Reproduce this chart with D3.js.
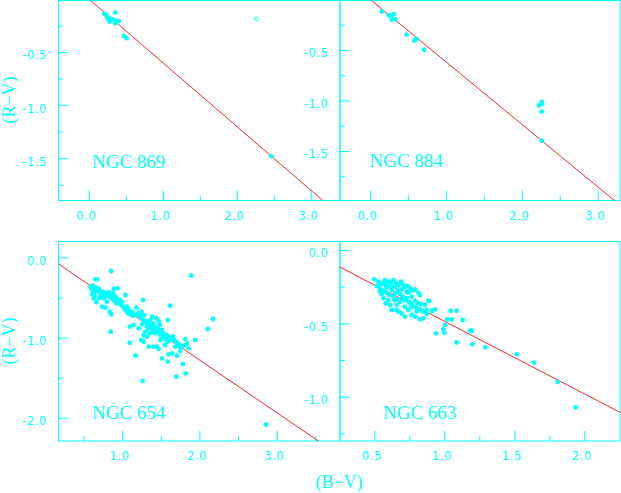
<!DOCTYPE html>
<html>
<head>
<meta charset="utf-8">
<script src="https://cdn.jsdelivr.net/npm/d3@7"></script>
<style>
body { margin: 0; background: #fff; }
svg { display: block; }
</style>
</head>
<body>
<svg id="chart" width="621" height="493"></svg>
<script>
// colour-colour diagrams, (B-V) vs (R-V), four clusters

// NGC 869
var ngc869 = [[0.21,-0.14],[0.24,-0.157],[0.257,-0.183],[0.284,-0.214],[0.307,-0.189],[0.36,-0.129],
    [0.338,-0.198],[0.384,-0.214],[0.405,-0.208],[0.36,-0.23],[0.473,-0.349],[0.51,-0.37],[2.465,-1.48]]
var ngc869Open = [[2.266,-0.189]]
var fit869 = [[-0.4,0.24],[3.4,-2.04]]

// NGC 884
var ngc884 = [[0.158,-0.119],[0.25,-0.156],[0.276,-0.168],[0.316,-0.146],[0.286,-0.2],[0.336,-0.196],
    [0.483,-0.348],[0.583,-0.408],[0.612,-0.391],[0.71,-0.497],[2.228,-1.048],[2.263,-1.015],
    [2.263,-1.035],[2.263,-1.11],[2.263,-1.398]]
var fit884 = [[-0.4,0.25],[3.3,-2.04]]

// NGC 654
var ngc654 = [[0.858,-0.171],[1.894,-0.229],[0.656,-0.275],[0.677,-0.275],[0.621,-0.354],[0.604,-0.395],
    [0.634,-0.428],[0.668,-0.379],[0.686,-0.42],[0.711,-0.437],[0.729,-0.42],[0.754,-0.437],[0.772,-0.462],
    [0.797,-0.445],[0.815,-0.478],[0.84,-0.491],[0.871,-0.512],[0.892,-0.395],[0.944,-0.387],[0.884,-0.449],
    [0.901,-0.545],[0.927,-0.574],[0.957,-0.561],[0.978,-0.586],[1.013,-0.616],[1.043,-0.47],[1.03,-0.645],
    [1.056,-0.67],[1.086,-0.657],[1.107,-0.711],[1.142,-0.728],[0.742,-0.616],[0.785,-0.628],[0.84,-0.678],
    [0.858,-0.711],[0.634,-0.512],[0.613,-0.462],[0.699,-0.512],[0.668,-0.561],[0.72,-0.491],[1.185,-0.628],
    [1.249,-0.678],[1.271,-0.532],[1.236,-0.753],[1.279,-0.782],[1.301,-0.811],[1.258,-0.836],[1.322,-0.865],
    [1.344,-0.886],[1.365,-0.782],[1.387,-0.74],[1.4,-0.823],[1.417,-0.865],[1.443,-0.906],[1.473,-0.927],
    [1.43,-0.948],[1.365,-0.948],[1.301,-0.927],[1.279,-0.969],[1.322,-0.99],[1.494,-0.969],[1.529,-0.99],
    [1.559,-1.019],[1.589,-0.782],[1.623,-0.603],[1.589,-1.052],[1.099,-0.865],[1.15,-0.844],[1.215,-0.886],
    [1.249,-1.031],[0.853,-0.927],[1.099,-1.064],[1.658,-0.99],[1.675,-1.031],[1.709,-1.06],[1.731,-1.085],
    [1.752,-1.114],[1.688,-1.114],[1.795,-1.102],[1.817,-1.019],[1.838,-1.073],[1.86,-1.135],[1.946,-1.031],
    [1.752,-1.168],[1.709,-1.227],[1.645,-1.197],[1.602,-1.21],[1.516,-1.26],[1.589,-1.301],[1.787,-1.33],
    [1.172,-1.227],[1.408,-1.114],[1.451,-1.114],[1.473,-1.143],[1.344,-1.114],[1.279,-1.052],
    [1.266,-1.542],[2.862,-2.087],[2.174,-0.769],[2.11,-0.894],[1.821,-1.446],[1.70,-1.489],
    [0.656,-0.408],[0.699,-0.395],[0.742,-0.462],[0.785,-0.491],[0.828,-0.437],[0.858,-0.47],[0.914,-0.491],
    [0.935,-0.52],[0.97,-0.532],[0.999,-0.553],[0.591,-0.366],[0.625,-0.387],[0.643,-0.47],[0.763,-0.512],
    [0.806,-0.553],[1.064,-0.616],[1.073,-0.699],[1.129,-0.678],[1.172,-0.72],[1.2,-0.699],[1.228,-0.72],
    [1.258,-0.761],[1.288,-0.72],[1.322,-0.803],[1.344,-0.836],[1.374,-0.865],[1.387,-0.906],[1.408,-0.927],
    [1.46,-0.886],[1.486,-0.844],[1.516,-0.906],[1.537,-0.948],[1.572,-0.969],[1.602,-0.99],[1.623,-1.031],
    [1.494,-1.031],[1.559,-1.093],[1.473,-0.803],[1.443,-0.761]]
var fit654 = [[0.18,-0.084],[3.8,-2.462]]

// NGC 663
var ngc663 = [[0.5,-0.2],[0.529,-0.216],[0.548,-0.232],[0.565,-0.223],[0.581,-0.239],[0.6,-0.216],
    [0.619,-0.227],[0.636,-0.205],[0.653,-0.223],[0.672,-0.239],[0.691,-0.216],[0.707,-0.239],[0.719,-0.25],
    [0.738,-0.245],[0.755,-0.261],[0.772,-0.277],[0.791,-0.268],[0.815,-0.291],[0.826,-0.307],[0.541,-0.261],
    [0.565,-0.277],[0.588,-0.291],[0.605,-0.307],[0.624,-0.273],[0.648,-0.295],[0.667,-0.277],[0.684,-0.3],
    [0.7,-0.318],[0.715,-0.341],[0.731,-0.329],[0.743,-0.352],[0.762,-0.364],[0.779,-0.382],[0.803,-0.398],
    [0.826,-0.405],[0.85,-0.42],[0.874,-0.409],[0.893,-0.348],[0.565,-0.329],[0.581,-0.364],[0.6,-0.341],
    [0.624,-0.409],[0.66,-0.375],[0.672,-0.42],[0.695,-0.432],[0.719,-0.386],[0.743,-0.409],[0.767,-0.443],
    [0.791,-0.455],[0.826,-0.473],[0.85,-0.466],[0.719,-0.455],[0.684,-0.352],[0.643,-0.341],[0.612,-0.25],
    [0.576,-0.205],[0.743,-0.291],[0.767,-0.318],[0.791,-0.345],[0.81,-0.364],[0.834,-0.368],[0.862,-0.375],
    [0.874,-0.436],[0.91,-0.416],[0.934,-0.405],[0.553,-0.3],[0.517,-0.245],[0.648,-0.25],[0.695,-0.268],
    [0.588,-0.254],[0.636,-0.318],[0.672,-0.336],[0.731,-0.284],[0.767,-0.386],[0.803,-0.42],[0.66,-0.409],
    [0.612,-0.375],[0.541,-0.284],
    [1.517,-0.711],[1.641,-0.768],[1.81,-0.9],[1.938,-1.073],[1.293,-0.664],[1.2,-0.643],[1.088,-0.63],
    [1.184,-0.55],[1.196,-0.55],[1.131,-0.477],[1.088,-0.414],[1.045,-0.414],[1.053,-0.473],[1.022,-0.473],
    [1.005,-0.511],[0.993,-0.541],[1.0,-0.564],[0.941,-0.568],[0.915,-0.414],[0.888,-0.346]]
var fit663 = [[0.25,-0.114],[2.26,-1.109]]

// tick values
var xMajorTop = [0, 1, 2, 3], xMinorTop = [0.5, 1.5, 2.5]
var yMajorTop = [-0.5, -1.0, -1.5], yMinorTop = [-0.25, -0.75, -1.25, -1.75]
var xMajor654 = [1, 2, 3], xMinor654 = [0.5, 1.5, 2.5, 3.5]
var yMajor654 = [0, -1, -2], yMinor654 = [-0.5, -1.5]
var xMajor663 = [0.5, 1.0, 1.5, 2.0], xMinor663 = [0.75, 1.25, 1.75]
var yMajor663 = [0, -0.5, -1.0], yMinor663 = [-0.25, -0.75, -1.25]

var cyan = '#00ffff'
var red = '#ff2626'
var svg = d3.select('#chart')

function fmt(v) {
    return (v < 0 ? '-' : '') + Math.abs(v).toFixed(1)
}

var panels = [
    {id: 'p869', name: 'NGC 869', pts: ngc869, open: ngc869Open, fit: fit869,
     left: 58.5, right: 340, top: 0.5, bottom: 200.5, xDom: [-0.409, 3.395], yDom: [-1.897, -0.0155],
     xMajor: xMajorTop, xMinor: xMinorTop, yMajor: yMajorTop, yMinor: yMinorTop, nameAt: [92, 167.5]},
    {id: 'p884', name: 'NGC 884', pts: ngc884, open: [], fit: fit884,
     left: 340, right: 620, top: 0.5, bottom: 200.5, xDom: [-0.395, 3.294], yDom: [-1.99, -0.01],
     xMajor: xMajorTop, xMinor: xMinorTop, yMajor: yMajorTop, yMinor: yMinorTop, nameAt: [369.5, 167]},
    {id: 'p654', name: 'NGC 654', pts: ngc654, open: [], fit: fit654,
     left: 58.5, right: 340, top: 241.5, bottom: 441, xDom: [0.178, 3.817], yDom: [-2.29, 0.197],
     xMajor: xMajor654, xMinor: xMinor654, yMajor: yMajor654, yMinor: yMinor654, nameAt: [92, 418.5]},
    {id: 'p663', name: 'NGC 663', pts: ngc663, open: [], fit: fit663,
     left: 340, right: 620, top: 241.5, bottom: 441, xDom: [0.255, 2.255], yDom: [-1.302, 0.058],
     xMajor: xMajor663, xMinor: xMinor663, yMajor: yMajor663, yMinor: yMinor663, nameAt: [383, 418.5]}
]

panels.forEach(function (p) {
    var x = d3.scaleLinear().domain(p.xDom).range([p.left, p.right])
    var y = d3.scaleLinear().domain(p.yDom).range([p.bottom, p.top])
    var g = svg.append('g').attr('class', 'panel ' + p.id)

    g.append('clipPath').attr('id', 'clip-' + p.id)
        .append('rect')
        .attr('x', p.left).attr('y', p.top)
        .attr('width', p.right - p.left).attr('height', p.bottom - p.top)

    // frame
    g.append('rect')
        .attr('x', p.left).attr('y', p.top)
        .attr('width', p.right - p.left).attr('height', p.bottom - p.top)
        .attr('fill', 'none').attr('stroke', cyan).attr('stroke-width', 1)

    // ticks, pointing inward
    var ticks = g.append('g').attr('class', 'ticks')
    ticks.append('g').attr('transform', 'translate(0,' + p.bottom + ')')
        .call(d3.axisBottom(x).tickValues(p.xMajor).tickSize(-10).tickFormat(''))
    ticks.append('g').attr('transform', 'translate(0,' + p.bottom + ')')
        .call(d3.axisBottom(x).tickValues(p.xMinor).tickSize(-5).tickFormat(''))
    ticks.append('g').attr('transform', 'translate(' + p.left + ',0)')
        .call(d3.axisLeft(y).tickValues(p.yMajor).tickSize(-10).tickFormat(''))
    ticks.append('g').attr('transform', 'translate(' + p.left + ',0)')
        .call(d3.axisLeft(y).tickValues(p.yMinor).tickSize(-5).tickFormat(''))
    ticks.selectAll('.domain').remove()
    ticks.selectAll('line').attr('stroke', cyan)

    // tick labels
    g.append('g').selectAll('text.xl')
        .data(p.xMajor).enter().append('text')
        .attr('x', function (d) { return x(d) - 2.5 })
        .attr('y', p.bottom + 19)
        .attr('text-anchor', 'middle')
        .attr('font-family', 'DejaVu Sans, sans-serif').attr('font-size', 11.5)
        .attr('letter-spacing', 0.6)
        .attr('fill', cyan)
        .text(fmt)
    g.append('g').selectAll('text.yl')
        .data(p.yMajor).enter().append('text')
        .attr('x', p.left - 11.5)
        .attr('y', function (d) { return y(d) + 7.4 })
        .attr('text-anchor', 'end')
        .attr('font-family', 'DejaVu Sans, sans-serif').attr('font-size', 11.5)
        .attr('letter-spacing', 0.6)
        .attr('fill', cyan)
        .text(fmt)

    var inner = g.append('g').attr('clip-path', 'url(#clip-' + p.id + ')')

    inner.append('path')
        .datum(p.fit)
        .attr('d', d3.line().x(function (d) { return x(d[0]) }).y(function (d) { return y(d[1]) }))
        .attr('fill', 'none').attr('stroke', red).attr('stroke-width', 1)

    inner.selectAll('circle.pt')
        .data(p.pts).enter().append('circle')
        .attr('class', 'pt')
        .attr('cx', function (d) { return x(d[0]) })
        .attr('cy', function (d) { return y(d[1]) })
        .attr('r', 2.4)
        .attr('fill', cyan)

    inner.selectAll('circle.op')
        .data(p.open).enter().append('circle')
        .attr('class', 'op')
        .attr('cx', function (d) { return x(d[0]) })
        .attr('cy', function (d) { return y(d[1]) })
        .attr('r', 1.8)
        .attr('fill', 'none').attr('stroke', cyan).attr('stroke-width', 1)

    g.append('text')
        .attr('x', p.nameAt[0]).attr('y', p.nameAt[1])
        .attr('font-family', 'Liberation Serif, serif').attr('font-size', 19)
        .attr('fill', cyan)
        .text(p.name)
})

// axis titles
var serif = 'Liberation Serif, serif'
;[100, 341].forEach(function (cy) {
    svg.append('text')
        .attr('transform', 'translate(15,' + cy + ') rotate(-90)')
        .attr('text-anchor', 'middle')
        .attr('font-family', serif).attr('font-size', 18)
        .attr('fill', cyan)
        .text('(R\u2212V)')
})
svg.append('text')
    .attr('x', 339).attr('y', 488)
    .attr('text-anchor', 'middle')
    .attr('font-family', serif).attr('font-size', 18)
    .attr('fill', cyan)
    .text('(B\u2212V)')
</script>
</body>
</html>
